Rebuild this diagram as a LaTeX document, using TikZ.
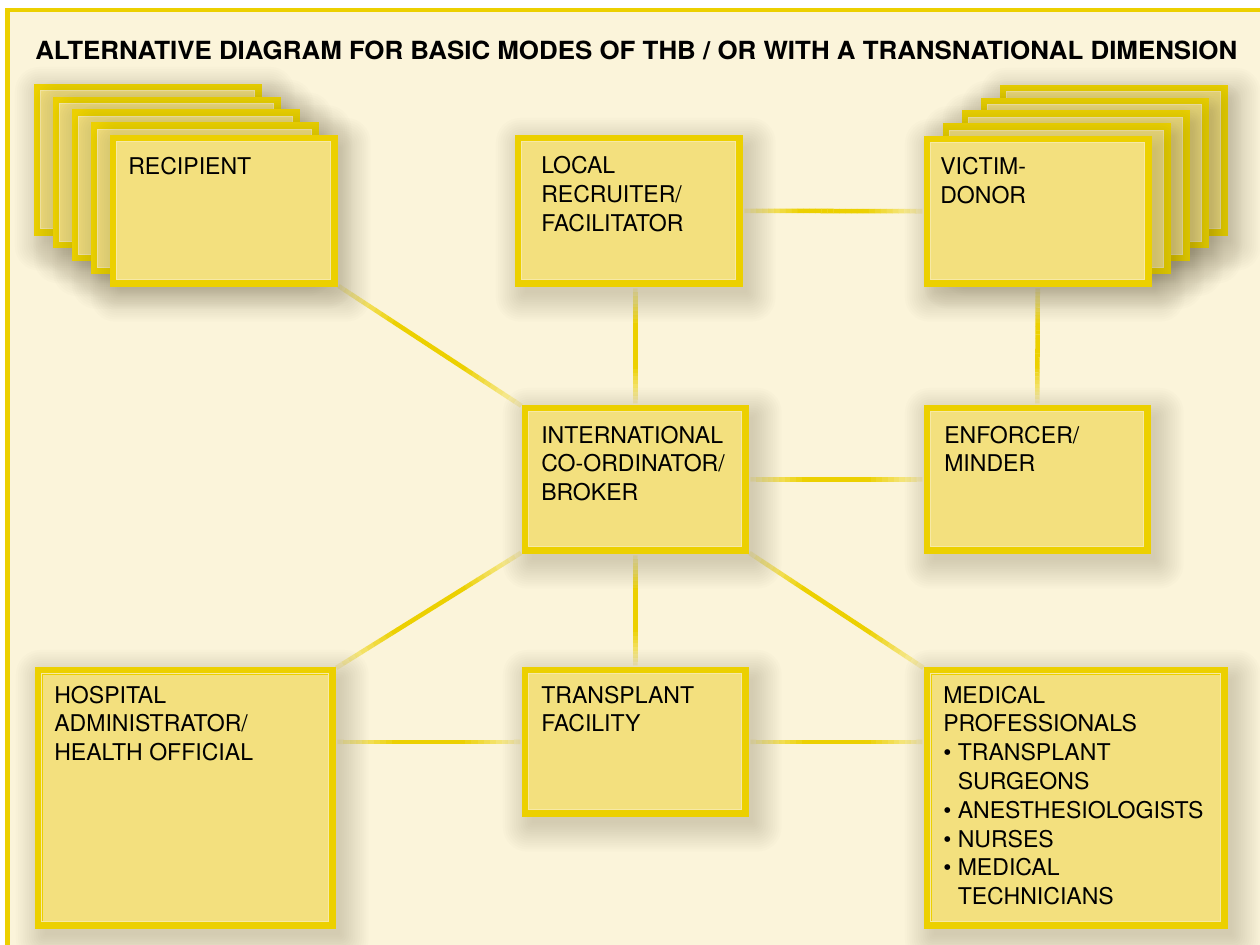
\documentclass[tikz,border=0pt]{standalone}
\usepackage{fontspec}
\usepackage{graphicx}
\setmainfont{TeX Gyre Heros}
\usetikzlibrary{calc}
\definecolor{bgcream}{HTML}{FBF4DA}
\definecolor{boxfill}{HTML}{F3E07E}
\definecolor{bordery}{HTML}{ECD000}
\definecolor{lineyel}{HTML}{ECD000}
\definecolor{shadowc}{HTML}{5C5338}
\newcommand\lblfont{\fontsize{17.3pt}{21.6pt}\selectfont}
\newcommand\lns[1]{\begin{tabular}[t]{@{}l@{}}#1\end{tabular}}
% invisible node carrying the box geometry (outer px box: x y w h)
\newcommand\mkshape[5]{%
  \pgfmathsetmacro\bw{(#4-7)*0.75}%
  \pgfmathsetmacro\bh{(#5-7)*0.75}%
  \node[cshape,minimum width=\bw pt,minimum height=\bh pt] (#1) at (#2+3.5,#3+3.5) {};}
% visible box with a soft shadow, drawn on a named node
\newcommand\drawbox[2][]{%
  \foreach \s in {0,...,13}{%
    \pgfmathsetmacro\ex{1+\s*2.2}%
    \pgfmathsetmacro\rc{(1+\s*1.8)*0.75}%
    \fill[shadowc, fill opacity=0.016, rounded corners=\rc pt]
      ($(#2.north west)+(7-\ex,9-\ex)$) rectangle ($(#2.south east)+(7+\ex,9+\ex)$);
  }%
  \draw[cbox,#1] (#2.north west) rectangle (#2.south east);
  \draw[inner line] ($(#2.north west)+(3.2,3.2)$) rectangle ($(#2.south east)+(-3.2,-3.2)$);}
\newcommand\fadeline[3][4]{%
  \coordinate (fs) at ($(#2)!#1pt!(#3)$);
  \coordinate (fe) at ($(#3)!#1pt!(#2)$);
  \foreach \i in {0,...,29}{%
    \pgfmathsetmacro\ta{\i/30}%
    \pgfmathsetmacro\tb{(\i+1.05)/30}%
    \pgfmathsetmacro\tm{(\i+0.5)/30}%
    \pgfmathtruncatemacro\pc{15+85*min(1,min(\tm,1-\tm)/0.32)}%
    \draw[conn,draw=lineyel!\pc!bgcream] ($(fs)!\ta!(fe)$) -- ($(fs)!\tb!(fe)$);
  }}
\tikzset{
  cshape/.style={rectangle, inner sep=0pt, anchor=north west},
  cbox/.style={draw=bordery, fill=boxfill, line width=5.25pt},
  inner line/.style={draw=boxfill!70!white, line width=0.6pt},
  lbl/.style={anchor=base west, inner sep=0pt, font=\lblfont},
  conn/.style={line width=3.4pt, line cap=butt},
  frame/.style={draw=bordery, line width=3.4pt},
}
\begin{document}
\begin{tikzpicture}[x=0.75pt,y=-0.75pt]
\useasboundingbox (0,0) rectangle (1260,945);
\fill[white] (0,0) rectangle (1260,945);
\fill[bgcream] (7.5,10) rectangle (1262,947);
\draw[frame] (7.5,947) -- (7.5,10) -- (1262,10);

% geometry of all boxes
\foreach \k in {4,3,2,1}{
  \mkshape{recb\k}{110-19*\k}{135-12.75*\k}{227}{151}
  \mkshape{vicb\k}{924+19*\k}{136-12.75*\k}{227}{150}
}
\mkshape{rec}{110}{135}{227}{151}
\mkshape{vic}{924}{136}{227}{150}
\mkshape{loc}{515}{135}{227}{151}
\mkshape{int}{522}{405}{226}{148}
\mkshape{enf}{924}{405}{226}{148}
\mkshape{hos}{35}{667}{300}{261}
\mkshape{tra}{522}{667}{226}{149}
\mkshape{med}{924}{667}{303}{261}

% connectors (behind the boxes)
\coordinate (locS) at (int.north |- loc.south);
\coordinate (hosE) at (hos.east |- tra.west);
\coordinate (medW) at (med.west |- tra.east);
\fadeline{rec.south east}{int.north west}
\fadeline{locS}{int.north}
\fadeline{loc.east}{vic.west}
\fadeline{vic.south}{enf.north}
\fadeline{int.east}{enf.west}
\fadeline{int.south west}{hos.north east}
\fadeline{int.south}{tra.north}
\fadeline{int.south east}{med.north west}
\fadeline{hosE}{tra.west}
\fadeline{tra.east}{medW}

% boxes
\drawbox{recb4}\drawbox{recb3}\drawbox{recb2}\drawbox{recb1}\drawbox{rec}
\drawbox{vicb4}\drawbox{vicb3}\drawbox{vicb2}\drawbox{vicb1}\drawbox{vic}
\drawbox{loc}
\drawbox{int}
\drawbox{enf}
\drawbox[line width=6pt]{hos}
\drawbox{tra}
\drawbox[line width=6pt]{med}

% labels
\node[lbl] (recT) at (128,175) {\lns{RECIPIENT}};
\node[lbl] (locT) at (541,174) {\lns{LOCAL\\RECRUITER/\\FACILITATOR}};
\node[lbl] (vicT) at (940,175) {\lns{VICTIM-\\DONOR}};
\node[lbl] (intT) at (541,443) {\lns{INTERNATIONAL\\CO-ORDINATOR/\\BROKER}};
\node[lbl] (enfT) at (944,443) {\lns{ENFORCER/\\MINDER}};
\node[lbl] (hosT) at (54,703) {\lns{HOSPITAL\\ADMINISTRATOR/\\HEALTH OFFICIAL}};
\node[lbl] (traT) at (541,703) {\lns{TRANSPLANT\\FACILITY}};
\node[lbl] (medT) at (943,703) {\lns{MEDICAL\\PROFESSIONALS\\\textbullet\ TRANSPLANT\\\phantom{\textbullet\ }SURGEONS\\\textbullet\ ANESTHESIOLOGISTS\\\textbullet\ NURSES\\\textbullet\ MEDICAL\\\phantom{\textbullet\ }TECHNICIANS}};

% title
\node[anchor=base west, inner sep=0pt] (title) at (35,60)
  {\resizebox{901.5pt}{\height}{\fontsize{18.75pt}{22pt}\selectfont\bfseries ALTERNATIVE DIAGRAM FOR BASIC MODES OF THB / OR WITH A TRANSNATIONAL DIMENSION}};
\end{tikzpicture}
\end{document}
